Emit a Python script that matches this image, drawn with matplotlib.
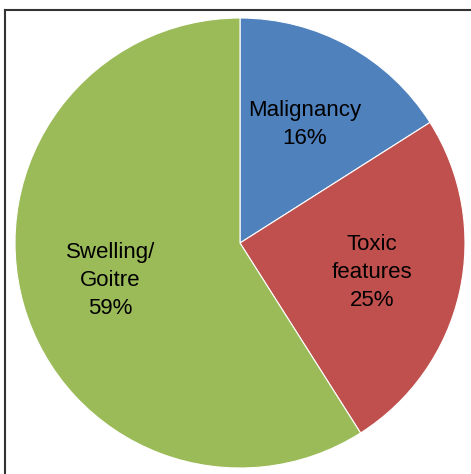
import matplotlib.pyplot as plt
from matplotlib.lines import Line2D

plt.rcParams['font.family'] = ['Liberation Sans', 'DejaVu Sans']

categories = ['Malignancy', 'Toxic\nfeatures', 'Swelling/\nGoitre']
values = [16, 25, 59]
colors = ['#4F81BD', '#C0504D', '#9BBB59']

W, H = 471, 474
fig = plt.figure(figsize=(W/100, H/100), dpi=100)

# frame (top and left only)
fig.add_artist(Line2D([5/W, 1], [1-10/H, 1-10/H], color='#333333', lw=1.5))
fig.add_artist(Line2D([5/W, 5/W], [0, 1-10/H], color='#333333', lw=1.5))

ax = fig.add_axes([15/W, 6/H, 450/W, 450/H])
labels = [c + '\n' + str(v) + '%' for c, v in zip(categories, values)]
wedges, texts = ax.pie(values, colors=colors, startangle=90, counterclock=False,
                       labels=labels, labeldistance=0.6,
                       wedgeprops=dict(edgecolor='white', linewidth=0.8))
for t in texts:
    t.set_ha('center')
    t.set_va('center')
    t.set_fontsize(16)
    t.set_linespacing(1.45)
    t.set_multialignment('center')
    t.set_color('black')
ax.set_xlim(-1, 1)
ax.set_ylim(-1, 1)
ax.set_aspect('equal')

fig.savefig('out.png', dpi=100)
